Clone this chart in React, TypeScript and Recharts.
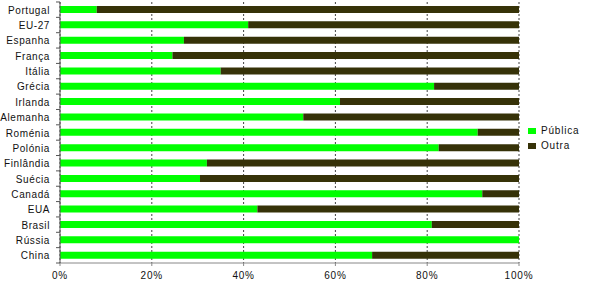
import React from 'react';
import { BarChart, Bar, XAxis, YAxis, CartesianGrid } from 'recharts';

const countries = [
  'Portugal', 'EU-27', 'Espanha', 'França', 'Itália', 'Grécia', 'Irlanda', 'Alemanha',
  'Roménia', 'Polónia', 'Finlândia', 'Suécia', 'Canadá', 'EUA', 'Brasil', 'Rússia', 'China',
];
const publica = [8, 41, 27, 24.5, 35, 81.5, 61, 53, 91, 82.5, 32, 30.5, 92, 43, 81, 100, 68];
const outra = [92, 59, 73, 75.5, 65, 18.5, 39, 47, 9, 17.5, 68, 69.5, 8, 57, 19, 0, 32];
const xTicks = [0, 20, 40, 60, 80, 100];
const seriesNames = ['Pública', 'Outra'];

const data = countries.map((name, i) => ({ name, publica: publica[i], outra: outra[i] }));

const GREEN = '#00ff00';
const DARK = '#363208';
const FONT = 'Liberation Sans, Arial, sans-serif';
const AXIS_X = 60;
const HALF_BAND = 261 / countries.length / 2;

const YTick = (props: any) => {
  const { x, y, payload } = props;
  return (
    <g>
      <line x1={AXIS_X - 4} x2={AXIS_X} y1={y - HALF_BAND} y2={y - HALF_BAND} stroke="#555" />
      {payload.index === countries.length - 1 && (
        <line x1={AXIS_X - 4} x2={AXIS_X} y1={y + HALF_BAND} y2={y + HALF_BAND} stroke="#555" />
      )}
      <text x={x - 2} y={y} dy={4} textAnchor="end" fontSize={10} fontFamily={FONT}
        letterSpacing={0.6} fill="#111">
        {payload.value}
      </text>
    </g>
  );
};

export default function App() {
  return (
    <div style={{ position: 'absolute', left: 0, top: 0, width: 592, height: 289, background: '#fff' }}>
      <BarChart width={592} height={289} data={data} layout="vertical"
        margin={{ top: 2, right: 73, bottom: 0, left: 0 }} barCategoryGap={4}>
        <CartesianGrid horizontal={false} stroke="#444" strokeDasharray="2 2" />
        <XAxis type="number" domain={[0, 100]} ticks={xTicks} tickFormatter={(v) => `${v}%`}
          height={26} stroke="#888" tickSize={3} tickMargin={6}
          tick={{ fontSize: 10, fontFamily: FONT, fill: '#111', letterSpacing: 0.8 }} />
        <YAxis type="category" dataKey="name" width={AXIS_X} stroke="#555" tickLine={false}
          tick={<YTick />} interval={0} />
        <Bar dataKey="publica" stackId="a" fill={GREEN} barSize={7} name={seriesNames[0]}
          isAnimationActive={false} />
        <Bar dataKey="outra" stackId="a" fill={DARK} barSize={7} name={seriesNames[1]}
          isAnimationActive={false} />
      </BarChart>
      <div style={{ position: 'absolute', left: 528, top: 123, fontFamily: FONT, fontSize: 10,
        letterSpacing: 0.8, color: '#111' }}>
        {seriesNames.map((label, i) => (
          <div key={label} style={{ display: 'flex', alignItems: 'center', height: 15 }}>
            <span style={{ width: 8, height: 6, background: i === 0 ? GREEN : DARK,
              marginRight: 5, display: 'inline-block' }} />
            {label}
          </div>
        ))}
      </div>
    </div>
  );
}
